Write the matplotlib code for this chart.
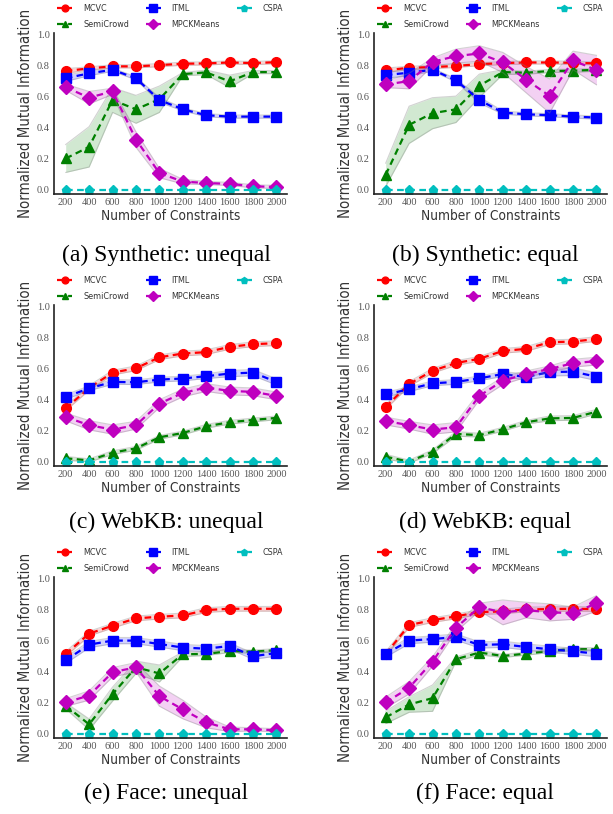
import numpy as np
import matplotlib
matplotlib.use("Agg")
import matplotlib.pyplot as plt

constraints = [200, 400, 600, 800, 1000, 1200, 1400, 1600, 1800, 2000]
tick_labels = ["200", "400", "600", "800", "1000", "1200", "1400", "1600", "1800", "2000"]
methods = ["MCVC", "SemiCrowd", "ITML", "MPCKMeans", "CSPA"]
captions = ["(a) Synthetic: unequal", "(b) Synthetic: equal",
            "(c) WebKB: unequal", "(d) WebKB: equal",
            "(e) Face: unequal", "(f) Face: equal"]

# (a) Synthetic: unequal
a_mcvc = [0.767, 0.784, 0.797, 0.797, 0.805, 0.814, 0.816, 0.822, 0.818, 0.824]
a_semi = [0.203, 0.278, 0.580, 0.520, 0.585, 0.747, 0.758, 0.700, 0.760, 0.760]
a_itml = [0.720, 0.752, 0.775, 0.720, 0.580, 0.520, 0.482, 0.473, 0.473, 0.473]
a_mpck = [0.662, 0.595, 0.636, 0.325, 0.109, 0.054, 0.045, 0.039, 0.024, 0.019]
a_cspa = [0.0, 0.0, 0.0, 0.0, 0.0, 0.0, 0.0, 0.0, 0.0, 0.0]
a_mcvc_err = [0.015, 0.01, 0.01, 0.01, 0.01, 0.01, 0.01, 0.01, 0.01, 0.01]
a_semi_err = [0.09, 0.13, 0.08, 0.09, 0.085, 0.01, 0.015, 0.04, 0.01, 0.01]
a_itml_err = [0.02, 0.015, 0.01, 0.01, 0.015, 0.01, 0.01, 0.01, 0.01, 0.01]
a_mpck_err = [0.02, 0.04, 0.02, 0.05, 0.03, 0.015, 0.01, 0.01, 0.01, 0.01]
a_cspa_err = [0.0, 0.0, 0.0, 0.0, 0.0, 0.0, 0.0, 0.0, 0.0, 0.0]

# (b) Synthetic: equal
b_mcvc = [0.771, 0.788, 0.792, 0.800, 0.811, 0.818, 0.822, 0.822, 0.820, 0.816]
b_semi = [0.098, 0.420, 0.495, 0.520, 0.672, 0.760, 0.756, 0.767, 0.769, 0.775]
b_itml = [0.741, 0.756, 0.775, 0.707, 0.580, 0.499, 0.488, 0.482, 0.473, 0.467]
b_mpck = [0.680, 0.702, 0.826, 0.863, 0.880, 0.822, 0.711, 0.606, 0.835, 0.773]
b_cspa = [0.0, 0.0, 0.0, 0.0, 0.0, 0.0, 0.0, 0.0, 0.0, 0.0]
b_mcvc_err = [0.015, 0.01, 0.01, 0.01, 0.01, 0.01, 0.01, 0.01, 0.01, 0.01]
b_semi_err = [0.075, 0.12, 0.10, 0.085, 0.075, 0.015, 0.01, 0.01, 0.01, 0.01]
b_itml_err = [0.02, 0.02, 0.01, 0.01, 0.02, 0.01, 0.01, 0.01, 0.01, 0.01]
b_mpck_err = [0.02, 0.05, 0.025, 0.045, 0.05, 0.065, 0.085, 0.11, 0.06, 0.095]
b_cspa_err = [0.0, 0.0, 0.0, 0.0, 0.0, 0.0, 0.0, 0.0, 0.0, 0.0]

# (c) WebKB: unequal
c_mcvc = [0.346, 0.477, 0.576, 0.604, 0.675, 0.699, 0.708, 0.742, 0.759, 0.766]
c_semi = [0.024, 0.010, 0.060, 0.088, 0.159, 0.187, 0.230, 0.256, 0.271, 0.284]
c_itml = [0.419, 0.475, 0.516, 0.514, 0.531, 0.538, 0.553, 0.570, 0.576, 0.516]
c_mpck = [0.290, 0.237, 0.209, 0.237, 0.376, 0.445, 0.480, 0.458, 0.452, 0.426]
c_cspa = [0.0, 0.0, 0.0, 0.0, 0.0, 0.0, 0.0, 0.0, 0.0, 0.0]
c_mcvc_err = [0.015, 0.015, 0.015, 0.015, 0.015, 0.015, 0.015, 0.015, 0.015, 0.015]
c_semi_err = [0.012, 0.01, 0.012, 0.012, 0.012, 0.012, 0.012, 0.012, 0.012, 0.012]
c_itml_err = [0.015, 0.015, 0.015, 0.015, 0.015, 0.015, 0.015, 0.02, 0.02, 0.02]
c_mpck_err = [0.025, 0.03, 0.03, 0.025, 0.025, 0.025, 0.025, 0.025, 0.025, 0.025]
c_cspa_err = [0.0, 0.0, 0.0, 0.0, 0.0, 0.0, 0.0, 0.0, 0.0, 0.0]

# (d) WebKB: equal
d_mcvc = [0.356, 0.503, 0.588, 0.638, 0.665, 0.716, 0.729, 0.772, 0.776, 0.793]
d_semi = [0.034, 0.002, 0.066, 0.181, 0.173, 0.211, 0.256, 0.281, 0.284, 0.324]
d_itml = [0.435, 0.469, 0.507, 0.516, 0.539, 0.567, 0.548, 0.580, 0.582, 0.550]
d_mpck = [0.264, 0.237, 0.209, 0.224, 0.426, 0.524, 0.567, 0.599, 0.637, 0.650]
d_cspa = [0.0, 0.0, 0.0, 0.0, 0.0, 0.0, 0.0, 0.0, 0.0, 0.0]
d_mcvc_err = [0.015, 0.015, 0.015, 0.015, 0.015, 0.015, 0.015, 0.015, 0.015, 0.015]
d_semi_err = [0.015, 0.01, 0.012, 0.015, 0.012, 0.012, 0.012, 0.015, 0.015, 0.015]
d_itml_err = [0.015, 0.015, 0.015, 0.015, 0.015, 0.015, 0.02, 0.025, 0.025, 0.025]
d_mpck_err = [0.025, 0.025, 0.03, 0.03, 0.025, 0.025, 0.02, 0.02, 0.025, 0.025]
d_cspa_err = [0.0, 0.0, 0.0, 0.0, 0.0, 0.0, 0.0, 0.0, 0.0, 0.0]

# (e) Face: unequal
e_mcvc = [0.516, 0.647, 0.698, 0.745, 0.756, 0.764, 0.799, 0.807, 0.807, 0.807]
e_semi = [0.182, 0.062, 0.257, 0.430, 0.390, 0.514, 0.516, 0.535, 0.531, 0.540]
e_itml = [0.475, 0.576, 0.602, 0.602, 0.580, 0.557, 0.550, 0.567, 0.501, 0.522]
e_mpck = [0.203, 0.248, 0.398, 0.430, 0.244, 0.158, 0.075, 0.030, 0.030, 0.024]
e_cspa = [0.0, 0.0, 0.0, 0.0, 0.0, 0.0, 0.0, 0.0, 0.0, 0.0]
e_mcvc_err = [0.015, 0.015, 0.015, 0.015, 0.015, 0.015, 0.015, 0.015, 0.015, 0.015]
e_semi_err = [0.02, 0.035, 0.045, 0.04, 0.055, 0.015, 0.01, 0.01, 0.01, 0.01]
e_itml_err = [0.02, 0.02, 0.02, 0.02, 0.02, 0.02, 0.02, 0.02, 0.02, 0.02]
e_mpck_err = [0.025, 0.03, 0.03, 0.03, 0.065, 0.06, 0.035, 0.015, 0.01, 0.01]
e_cspa_err = [0.0, 0.0, 0.0, 0.0, 0.0, 0.0, 0.0, 0.0, 0.0, 0.0]

# (f) Face: equal
f_mcvc = [0.516, 0.702, 0.734, 0.758, 0.786, 0.790, 0.803, 0.805, 0.807, 0.805]
f_semi = [0.107, 0.190, 0.231, 0.482, 0.525, 0.503, 0.518, 0.535, 0.548, 0.546]
f_itml = [0.516, 0.602, 0.612, 0.625, 0.574, 0.578, 0.561, 0.546, 0.533, 0.518]
f_mpck = [0.203, 0.298, 0.467, 0.685, 0.818, 0.784, 0.799, 0.784, 0.779, 0.842]
f_cspa = [0.0, 0.0, 0.0, 0.0, 0.0, 0.0, 0.0, 0.0, 0.0, 0.0]
f_mcvc_err = [0.015, 0.015, 0.015, 0.015, 0.015, 0.015, 0.015, 0.015, 0.015, 0.015]
f_semi_err = [0.04, 0.05, 0.085, 0.015, 0.015, 0.01, 0.01, 0.01, 0.01, 0.01]
f_itml_err = [0.02, 0.02, 0.02, 0.02, 0.02, 0.02, 0.02, 0.02, 0.02, 0.02]
f_mpck_err = [0.035, 0.04, 0.03, 0.025, 0.025, 0.08, 0.05, 0.055, 0.04, 0.05]
f_cspa_err = [0.0, 0.0, 0.0, 0.0, 0.0, 0.0, 0.0, 0.0, 0.0, 0.0]

panels = [
    (a_mcvc, a_semi, a_itml, a_mpck, a_cspa, a_mcvc_err, a_semi_err, a_itml_err, a_mpck_err, a_cspa_err),
    (b_mcvc, b_semi, b_itml, b_mpck, b_cspa, b_mcvc_err, b_semi_err, b_itml_err, b_mpck_err, b_cspa_err),
    (c_mcvc, c_semi, c_itml, c_mpck, c_cspa, c_mcvc_err, c_semi_err, c_itml_err, c_mpck_err, c_cspa_err),
    (d_mcvc, d_semi, d_itml, d_mpck, d_cspa, d_mcvc_err, d_semi_err, d_itml_err, d_mpck_err, d_cspa_err),
    (e_mcvc, e_semi, e_itml, e_mpck, e_cspa, e_mcvc_err, e_semi_err, e_itml_err, e_mpck_err, e_cspa_err),
    (f_mcvc, f_semi, f_itml, f_mpck, f_cspa, f_mcvc_err, f_semi_err, f_itml_err, f_mpck_err, f_cspa_err),
]

colors = ["#ff0000", "#008000", "#0000ff", "#bf00bf", "#00bfbf"]
markers = ["o", "^", "s", "D", "p"]
msizes = [7, 7, 7.5, 7, 6.5]

W, H = 613, 814
fig = plt.figure(figsize=(W / 100, H / 100), dpi=100)
renderer = fig.canvas.get_renderer()

lefts = [54, 374]
bottoms = [194, 466, 738]
cap_y = [255, 522, 793]
cap_x = [166, 485]
ax_w, ax_h = 233, 161


def fit_size(txt, target_px, start):
    # scale font so the rendered label spans target_px
    txt.set_fontsize(start)
    bb = txt.get_window_extent(renderer=renderer)
    length = max(bb.width, bb.height)
    if length > 0:
        txt.set_fontsize(start * target_px / length)


x = np.array(constraints)
for i, pdata in enumerate(panels):
    r, c = divmod(i, 2)
    L = lefts[c]
    B = bottoms[r]
    ax = fig.add_axes([L / W, (H - B) / H, ax_w / W, ax_h / H])
    means = pdata[:5]
    errs = pdata[5:]
    for k in range(5):
        m = np.array(means[k])
        e = np.array(errs[k])
        if e.max() > 0:
            ax.fill_between(x, m - e, m + e, color=colors[k], alpha=0.18, linewidth=0)
            ax.plot(x, m - e, color="gray", alpha=0.35, lw=0.8)
            ax.plot(x, m + e, color="gray", alpha=0.35, lw=0.8)
        ax.plot(x, m, ls="--", lw=1.6, color=colors[k], marker=markers[k],
                ms=msizes[k], mec=colors[k], mfc=colors[k], label=methods[k],
                dashes=(3, 2))
    ax.set_xlim(100, 2090)
    ax.set_ylim(-0.026, 1.012)
    ax.set_xticks(constraints)
    ax.set_xticklabels(tick_labels)
    ax.set_yticks([0.0, 0.2, 0.4, 0.6, 0.8, 1.0])
    ax.set_yticklabels(["0.0", "0.2", "0.4", "0.6", "0.8", "1.0"])
    for lab in ax.get_xticklabels() + ax.get_yticklabels():
        lab.set_fontfamily("Liberation Serif")
        lab.set_fontsize(7.5)
        lab.set_color("#555555")
    ax.tick_params(length=0, pad=3)
    for s in ["top", "right"]:
        ax.spines[s].set_visible(False)
    for s in ["left", "bottom"]:
        ax.spines[s].set_color("#222222")
        ax.spines[s].set_linewidth(1.2)
    xl = ax.set_xlabel("Number of Constraints", family="DejaVu Sans", fontstretch="condensed",
                       color="#333333", labelpad=1)
    yl = ax.set_ylabel("Normalized Mutual Information", family="DejaVu Sans", fontstretch="condensed",
                       color="#333333", labelpad=3)
    fit_size(xl, 139, 10)
    fit_size(yl, 208, 10)
    leg = ax.legend(loc="lower left", bbox_to_anchor=(0.0, 1.005), ncol=3, frameon=False,
                    fontsize=5.8, handlelength=1.85, handletextpad=1.35, columnspacing=2.1,
                    labelspacing=0.85, markerscale=0.7, borderaxespad=0.0)
    for t in leg.get_texts():
        t.set_color("#333333")
    fig.text(cap_x[c] / W, 1 - cap_y[r] / H, captions[i], family="Liberation Serif",
             fontsize=17, ha="center", va="center")

fig.savefig("out.png", dpi=100)
